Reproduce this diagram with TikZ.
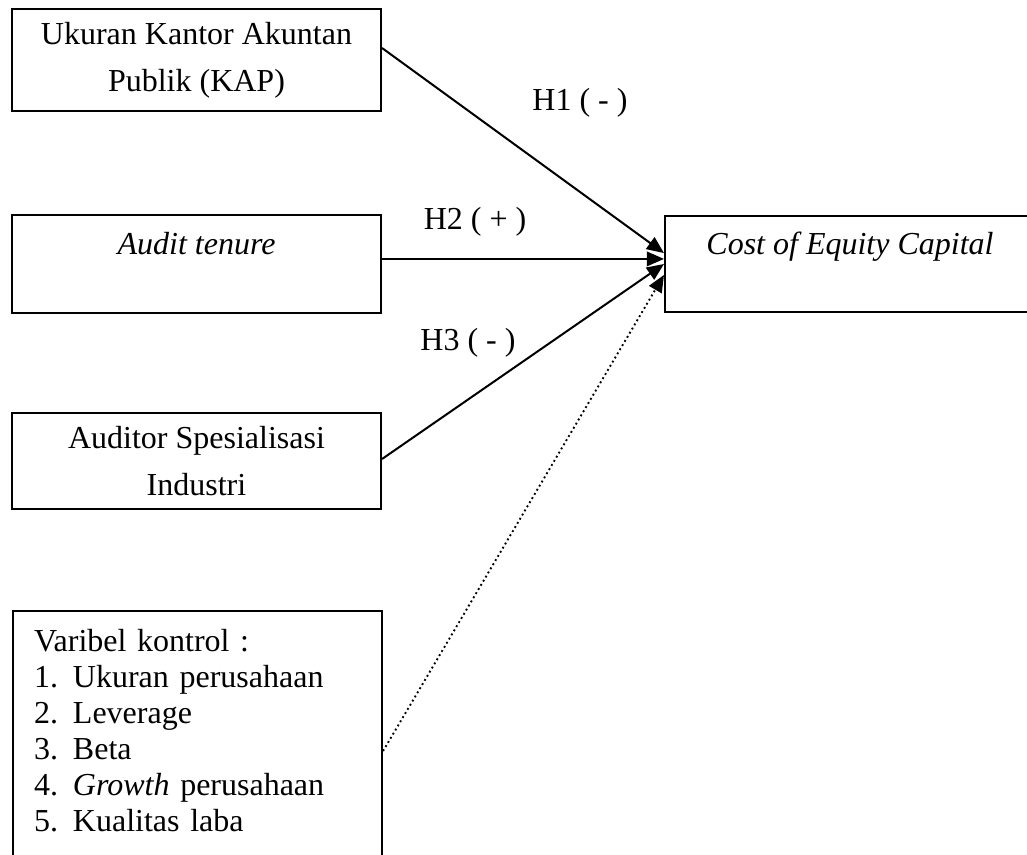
\documentclass[tikz,border=0pt]{standalone}
\usepackage{fontspec}
\setmainfont{Liberation Serif}
\usetikzlibrary{arrows.meta}
\begin{document}
\begin{tikzpicture}[x=0.375pt, y=-0.375pt, line width=0.75pt,
    font=\fontsize{12pt}{17.6pt}\selectfont,
    box/.style={draw, minimum width=138.4pt, minimum height=37pt, inner sep=0pt, align=center},
    toptext/.style={text height=8pt, text depth=14.8pt},
    tip/.style={-{Triangle[length=6.4pt, width=5.4pt]}}]
  \useasboundingbox (0,0) rectangle (1027,855);
  \clip (0,0) rectangle (1027,855);
  \node [box, minimum height=38.25pt] (kap) at (196.5,60) {Ukuran Kantor Akuntan\\Publik (KAP)};
  \node [box, toptext] (tenure) at (196.5,264) {\textit{Audit tenure}};
  \node [box, minimum height=36pt] (spec) at (196.5,461) {Auditor Spesialisasi\\Industri};
  \node [draw, anchor=north west, align=left, text width=122.6pt, inner xsep=7.9pt, inner ysep=0pt,
    text height=15pt, text depth=90pt, font=\fontsize{12pt}{13.5pt}\selectfont] (ctrl) at (12,610)
    {Varibel kontrol :\\
     \makebox[14.6pt][l]{1.}Ukuran perusahaan\\
     \makebox[14.6pt][l]{2.}Leverage\\
     \makebox[14.6pt][l]{3.}Beta\\
     \makebox[14.6pt][l]{4.}\textit{Growth} perusahaan\\
     \makebox[14.6pt][l]{5.}Kualitas laba};
  \node [box, toptext, minimum width=146.25pt, minimum height=36pt] (coe) at (860,264)
    {\textit{Cost of Equity Capital}\hspace*{7.5pt}};
  \draw [tip] ([yshift=4.5pt]kap.east) -- ([yshift=4.1pt]coe.west);
  \draw [tip] ([yshift=1.9pt]tenure.east) -- ([yshift=1.9pt]coe.west);
  \draw [tip] ([yshift=0.75pt]spec.east) -- (coe.west);
  \draw [tip, line width=0.7pt, dash pattern=on 0.7pt off 1.1pt] (ctrl.east) -- ([yshift=-4.1pt]coe.west);
  \node (h1) at (580,103) {H1 ( - )};
  \node (h2) at (475,222) {H2 ( + )};
  \node (h3) at (468,343) {H3 ( - )};
\end{tikzpicture}
\end{document}
